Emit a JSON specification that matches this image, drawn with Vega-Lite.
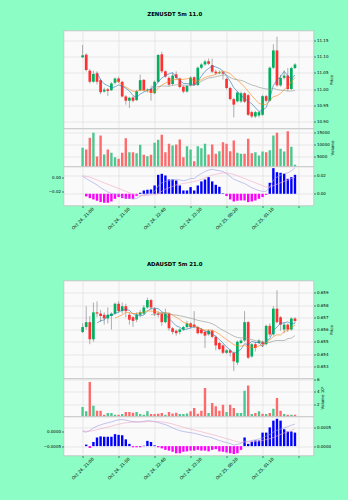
{
"$schema": "https://vega.github.io/schema/vega-lite/v6.json",
"background": "#8dfdc6",
"padding": {"left": 42.5, "top": 11.5, "right": 20, "bottom": 40},
"bounds": "flush",
"spacing": 0,
"config": {
  "font": "DejaVu Sans",
  "view": {"fill": "#fafafa", "stroke": "#c0c0c0", "strokeWidth": 0.8},
  "axis": {"labelFont": "DejaVu Sans", "labelFontSize": 4, "labelColor": "#000", "labelOverlap": false, "labelFlush": false, "titleFont": "DejaVu Sans", "titleFontSize": 4, "titleFontWeight": "normal", "titleColor": "#000", "tickColor": "#000", "tickSize": 2, "tickWidth": 0.5, "labelPadding": 1, "gridColor": "#dcdcdc", "gridWidth": 0.6, "domain": false},
  "title": {"font": "DejaVu Sans", "fontSize": 5.4, "fontWeight": "bold", "color": "#000", "anchor": "middle"}
},
"datasets": {
"zen": [
{"t":"2024-10-24T21:00","o":11.098,"h":11.136,"l":11.096,"c":11.104,"v":8570,"macd":0.001,"signal":0.002},
{"t":"2024-10-24T21:05","o":11.106,"h":11.110,"l":11.055,"c":11.059,"v":7860,"hist":-0.0029,"macd":-0.002,"signal":0.001},
{"t":"2024-10-24T21:10","o":11.057,"h":11.062,"l":11.018,"c":11.023,"v":12860,"hist":-0.0047,"macd":-0.005,"signal":0.0},
{"t":"2024-10-24T21:15","o":11.023,"h":11.057,"l":11.020,"c":11.047,"v":15000,"hist":-0.0062,"macd":-0.008,"signal":-0.002},
{"t":"2024-10-24T21:20","o":11.049,"h":11.055,"l":11.015,"c":11.023,"v":4860,"ma5":11.0512,"hist":-0.0076,"macd":-0.011,"signal":-0.004},
{"t":"2024-10-24T21:25","o":11.028,"h":11.032,"l":10.985,"c":10.991,"v":13860,"ma5":11.0286,"hist":-0.0091,"macd":-0.015,"signal":-0.006},
{"t":"2024-10-24T21:30","o":10.993,"h":11.005,"l":10.990,"c":10.999,"v":5710,"ma5":11.0166,"hist":-0.0098,"macd":-0.018,"signal":-0.008},
{"t":"2024-10-24T21:35","o":11.000,"h":11.004,"l":10.980,"c":10.995,"v":7860,"ma5":11.011,"hist":-0.0098,"macd":-0.021,"signal":-0.010},
{"t":"2024-10-24T21:40","o":10.997,"h":11.022,"l":10.995,"c":11.018,"v":6430,"ma5":11.0052,"hist":-0.0084,"macd":-0.023,"signal":-0.012},
{"t":"2024-10-24T21:45","o":11.020,"h":11.036,"l":11.015,"c":11.033,"v":4570,"ma5":11.0072,"ma10":11.0292,"hist":-0.0055,"macd":-0.024,"signal":-0.014},
{"t":"2024-10-24T21:50","o":11.033,"h":11.038,"l":11.020,"c":11.023,"v":3860,"ma5":11.0136,"ma10":11.0211,"hist":-0.0036,"macd":-0.025,"signal":-0.016},
{"t":"2024-10-24T21:55","o":11.023,"h":11.026,"l":10.975,"c":10.978,"v":6430,"ma5":11.0094,"ma10":11.013,"hist":-0.0047,"macd":-0.027,"signal":-0.018},
{"t":"2024-10-24T22:00","o":10.978,"h":10.982,"l":10.953,"c":10.965,"v":12710,"ma5":11.0034,"ma10":11.0072,"hist":-0.0055,"macd":-0.029,"signal":-0.020},
{"t":"2024-10-24T22:05","o":10.965,"h":10.977,"l":10.943,"c":10.974,"v":6710,"ma5":10.9946,"ma10":10.9999,"hist":-0.0055,"macd":-0.030,"signal":-0.022},
{"t":"2024-10-24T22:10","o":10.975,"h":10.979,"l":10.960,"c":10.965,"v":6710,"ma5":10.981,"ma10":10.9941,"hist":-0.0055,"macd":-0.031,"signal":-0.024},
{"t":"2024-10-24T22:15","o":10.967,"h":10.998,"l":10.964,"c":10.994,"v":6290,"ma5":10.9752,"ma10":10.9944,"hist":-0.0025,"macd":-0.030,"signal":-0.025},
{"t":"2024-10-24T22:20","o":10.997,"h":11.045,"l":10.994,"c":11.028,"v":9860,"ma5":10.9852,"ma10":10.9973,"hist":0.0011,"macd":-0.027,"signal":-0.026},
{"t":"2024-10-24T22:25","o":11.029,"h":11.031,"l":10.994,"c":10.997,"v":5570,"ma5":10.9916,"ma10":10.9975,"hist":0.0036,"macd":-0.025,"signal":-0.026},
{"t":"2024-10-24T22:30","o":10.997,"h":11.003,"l":10.990,"c":10.999,"v":5000,"ma5":10.9966,"ma10":10.9956,"hist":0.0044,"macd":-0.024,"signal":-0.026},
{"t":"2024-10-24T22:35","o":11.001,"h":11.008,"l":10.965,"c":10.989,"v":5570,"ma5":11.0014,"ma10":10.9912,"ma20":11.0102,"hist":0.0047,"macd":-0.023,"signal":-0.025},
{"t":"2024-10-24T22:40","o":10.988,"h":11.027,"l":10.985,"c":11.023,"v":10710,"ma5":11.0072,"ma10":10.9912,"ma20":11.0062,"hist":0.0091,"macd":-0.020,"signal":-0.025},
{"t":"2024-10-24T22:45","o":11.023,"h":11.108,"l":11.020,"c":11.105,"v":12000,"ma5":11.0226,"ma10":11.0039,"ma20":11.0085,"hist":0.0207,"macd":-0.012,"signal":-0.023},
{"t":"2024-10-24T22:50","o":11.107,"h":11.115,"l":11.050,"c":11.055,"v":14140,"ma5":11.0342,"ma10":11.0129,"ma20":11.0101,"hist":0.0218,"macd":-0.008,"signal":-0.020},
{"t":"2024-10-24T22:55","o":11.055,"h":11.058,"l":11.035,"c":11.039,"v":6710,"ma5":11.0422,"ma10":11.0194,"ma20":11.0097,"hist":0.0200,"macd":-0.006,"signal":-0.017},
{"t":"2024-10-24T23:00","o":11.035,"h":11.040,"l":11.010,"c":11.014,"v":10290,"ma5":11.0472,"ma10":11.0243,"ma20":11.0092,"hist":0.0156,"macd":-0.005,"signal":-0.015},
{"t":"2024-10-24T23:05","o":11.016,"h":11.051,"l":11.012,"c":11.042,"v":9570,"ma5":11.051,"ma10":11.0291,"ma20":11.0118,"hist":0.0156,"macd":-0.004,"signal":-0.013},
{"t":"2024-10-24T23:10","o":11.046,"h":11.055,"l":11.030,"c":11.035,"v":10000,"ma5":11.037,"ma10":11.0298,"ma20":11.0136,"hist":0.0145,"macd":-0.003,"signal":-0.011},
{"t":"2024-10-24T23:15","o":11.033,"h":11.036,"l":11.003,"c":11.007,"v":12140,"ma5":11.0274,"ma10":11.0308,"ma20":11.0142,"hist":0.0091,"macd":-0.004,"signal":-0.010},
{"t":"2024-10-24T23:20","o":11.008,"h":11.012,"l":10.988,"c":10.993,"v":4570,"ma5":11.0182,"ma10":11.0302,"ma20":11.0129,"hist":0.0036,"macd":-0.005,"signal":-0.009},
{"t":"2024-10-24T23:25","o":10.993,"h":11.014,"l":10.990,"c":11.010,"v":9290,"ma5":11.0174,"ma10":11.0323,"ma20":11.0118,"hist":0.0036,"macd":-0.004,"signal":-0.008},
{"t":"2024-10-24T23:30","o":11.012,"h":11.040,"l":11.008,"c":11.036,"v":7860,"ma5":11.0162,"ma10":11.0336,"ma20":11.0124,"hist":0.0073,"macd":-0.002,"signal":-0.007},
{"t":"2024-10-24T23:35","o":11.037,"h":11.040,"l":11.010,"c":11.013,"v":2860,"ma5":11.0118,"ma10":11.0244,"ma20":11.0142,"hist":0.0036,"macd":-0.002,"signal":-0.006},
{"t":"2024-10-24T23:40","o":11.013,"h":11.070,"l":11.010,"c":11.066,"v":9290,"ma5":11.0236,"ma10":11.0255,"ma20":11.0192,"hist":0.0091,"macd":0.002,"signal":-0.005},
{"t":"2024-10-24T23:45","o":11.066,"h":11.080,"l":11.062,"c":11.076,"v":8430,"ma5":11.0402,"ma10":11.0292,"ma20":11.0243,"hist":0.0135,"macd":0.005,"signal":-0.003},
{"t":"2024-10-24T23:50","o":11.076,"h":11.090,"l":11.072,"c":11.085,"v":10290,"ma5":11.0552,"ma10":11.0363,"ma20":11.0303,"hist":0.0156,"macd":0.008,"signal":-0.001},
{"t":"2024-10-24T23:55","o":11.086,"h":11.094,"l":11.074,"c":11.078,"v":5710,"ma5":11.0636,"ma10":11.0399,"ma20":11.0345,"hist":0.0182,"macd":0.010,"signal":0.001},
{"t":"2024-10-25T00:00","o":11.074,"h":11.094,"l":11.050,"c":11.054,"v":10000,"ma5":11.0718,"ma10":11.0418,"ma20":11.0358,"hist":0.0135,"macd":0.011,"signal":0.003},
{"t":"2024-10-25T00:05","o":11.054,"h":11.060,"l":11.044,"c":11.049,"v":6000,"ma5":11.0684,"ma10":11.046,"ma20":11.0384,"hist":0.0098,"macd":0.010,"signal":0.004},
{"t":"2024-10-25T00:10","o":11.049,"h":11.058,"l":11.046,"c":11.052,"v":7140,"ma5":11.0636,"ma10":11.0519,"ma20":11.041,"hist":0.0076,"macd":0.009,"signal":0.005},
{"t":"2024-10-25T00:15","o":11.052,"h":11.055,"l":11.030,"c":11.048,"v":11000,"ma5":11.0562,"ma10":11.0557,"ma20":11.044,"hist":0.0005,"macd":0.008,"signal":0.006},
{"t":"2024-10-25T00:20","o":11.032,"h":11.036,"l":11.000,"c":11.004,"v":10290,"ma5":11.0414,"ma10":11.0525,"ma20":11.043,"hist":-0.0025,"macd":0.005,"signal":0.006},
{"t":"2024-10-25T00:25","o":11.004,"h":11.008,"l":10.966,"c":10.970,"v":7140,"ma5":11.0246,"ma10":11.0482,"ma20":11.0363,"hist":-0.0062,"macd":0.001,"signal":0.005},
{"t":"2024-10-25T00:30","o":10.970,"h":10.974,"l":10.914,"c":10.953,"v":11710,"ma5":11.0054,"ma10":11.0369,"ma20":11.0312,"hist":-0.0084,"macd":-0.003,"signal":0.004},
{"t":"2024-10-25T00:35","o":10.963,"h":10.994,"l":10.960,"c":10.990,"v":6430,"ma5":10.993,"ma10":11.0283,"ma20":11.0288,"hist":-0.0076,"macd":-0.005,"signal":0.002},
{"t":"2024-10-25T00:40","o":10.963,"h":10.993,"l":10.958,"c":10.988,"v":6000,"ma5":10.981,"ma10":11.0186,"ma20":11.0275,"hist":-0.0073,"macd":-0.007,"signal":0.0},
{"t":"2024-10-25T00:45","o":10.988,"h":10.992,"l":10.958,"c":10.962,"v":6000,"ma5":10.9726,"ma10":11.007,"ma20":11.0235,"hist":-0.0073,"macd":-0.009,"signal":-0.002},
{"t":"2024-10-25T00:50","o":10.982,"h":10.986,"l":10.918,"c":10.922,"v":12430,"ma5":10.963,"ma10":10.9938,"ma20":11.0178,"hist":-0.0091,"macd":-0.012,"signal":-0.004},
{"t":"2024-10-25T00:55","o":10.930,"h":10.934,"l":10.912,"c":10.917,"v":6290,"ma5":10.9558,"ma10":10.9806,"ma20":11.0133,"hist":-0.0084,"macd":-0.015,"signal":-0.006},
{"t":"2024-10-25T01:00","o":10.917,"h":10.934,"l":10.912,"c":10.930,"v":6710,"ma5":10.9438,"ma10":10.9684,"ma20":11.0102,"hist":-0.0073,"macd":-0.017,"signal":-0.008},
{"t":"2024-10-25T01:05","o":10.920,"h":10.934,"l":10.914,"c":10.930,"v":5290,"ma5":10.9322,"ma10":10.9566,"ma20":11.0062,"hist":-0.0055,"macd":-0.019,"signal":-0.010},
{"t":"2024-10-25T01:10","o":10.922,"h":10.983,"l":10.918,"c":10.979,"v":7000,"ma5":10.9356,"ma10":10.9541,"ma20":11.0033,"hist":-0.0036,"macd":-0.020,"signal":-0.012},
{"t":"2024-10-25T01:15","o":10.979,"h":10.983,"l":10.960,"c":10.965,"v":6710,"ma5":10.9442,"ma10":10.9536,"ma20":11.0009,"hist":-0.0011,"macd":-0.020,"signal":-0.014},
{"t":"2024-10-25T01:20","o":10.965,"h":11.070,"l":10.962,"c":11.066,"v":7500,"ma5":10.974,"ma10":10.9649,"ma20":11.0009,"hist":0.012,"macd":-0.014,"signal":-0.014},
{"t":"2024-10-25T01:25","o":11.066,"h":11.138,"l":11.062,"c":11.119,"v":13860,"ma5":11.0118,"ma10":10.9778,"ma20":11.0031,"hist":0.028,"macd":-0.004,"signal":-0.012},
{"t":"2024-10-25T01:30","o":11.119,"h":11.161,"l":11.008,"c":11.012,"v":15000,"ma5":11.0282,"ma10":10.9802,"ma20":10.9994,"hist":0.0236,"macd":0.0,"signal":-0.010},
{"t":"2024-10-25T01:35","o":11.012,"h":11.044,"l":11.008,"c":11.035,"v":8140,"ma5":11.0394,"ma10":10.9875,"ma20":10.9973,"hist":0.0229,"macd":0.003,"signal":-0.008},
{"t":"2024-10-25T01:40","o":11.035,"h":11.058,"l":11.030,"c":11.042,"v":7000,"ma5":11.0548,"ma10":10.9995,"ma20":10.9967,"hist":0.0218,"macd":0.005,"signal":-0.006},
{"t":"2024-10-25T01:45","o":11.042,"h":11.065,"l":10.995,"c":11.001,"v":15700,"ma5":11.0418,"ma10":11.0079,"ma20":10.9943,"hist":0.0164,"macd":0.006,"signal":-0.004},
{"t":"2024-10-25T01:50","o":11.001,"h":11.069,"l":10.998,"c":11.065,"v":9000,"ma5":11.031,"ma10":11.0214,"ma20":10.9949,"hist":0.0182,"macd":0.009,"signal":-0.002},
{"t":"2024-10-25T01:55","o":11.065,"h":11.080,"l":11.062,"c":11.076,"v":1300,"ma5":11.0438,"ma10":11.036,"ma20":10.9963,"hist":0.0207,"macd":0.013,"signal":0.0}
],
"ada": [
{"t":"2024-10-24T21:00","o":0.6558,"h":0.6565,"l":0.6557,"c":0.6562,"v":1520000,"macd":0.0,"signal":0.00002},
{"t":"2024-10-24T21:05","o":0.6562,"h":0.6579,"l":0.6560,"c":0.6566,"v":830000,"hist":0.00004,"macd":-0.00002,"signal":0.00001},
{"t":"2024-10-24T21:10","o":0.6566,"h":0.6571,"l":0.6548,"c":0.6552,"v":5520000,"hist":-0.00005,"macd":0.00003,"signal":0.00001},
{"t":"2024-10-24T21:15","o":0.6552,"h":0.6582,"l":0.6550,"c":0.6574,"v":1730000,"hist":0.00011,"macd":0.00012,"signal":0.00003},
{"t":"2024-10-24T21:20","o":0.6574,"h":0.6583,"l":0.6570,"c":0.6573,"v":930000,"ma5":0.65654,"hist":0.00023,"macd":0.00018,"signal":0.00006},
{"t":"2024-10-24T21:25","o":0.6573,"h":0.6576,"l":0.6566,"c":0.6571,"v":930000,"ma5":0.65672,"hist":0.00026,"macd":0.00022,"signal":0.00009},
{"t":"2024-10-24T21:30","o":0.6572,"h":0.6574,"l":0.6564,"c":0.6569,"v":290000,"ma5":0.65678,"hist":0.00025,"macd":0.00026,"signal":0.00012},
{"t":"2024-10-24T21:35","o":0.6569,"h":0.6578,"l":0.6565,"c":0.6572,"v":560000,"ma5":0.65718,"hist":0.00025,"macd":0.00029,"signal":0.00015},
{"t":"2024-10-24T21:40","o":0.6571,"h":0.6574,"l":0.6560,"c":0.6573,"v":560000,"ma5":0.65716,"hist":0.00025,"macd":0.00032,"signal":0.00018},
{"t":"2024-10-24T21:45","o":0.6573,"h":0.6582,"l":0.6572,"c":0.6581,"v":290000,"ma5":0.65732,"ma10":0.65693,"hist":0.00032,"macd":0.00036,"signal":0.00021},
{"t":"2024-10-24T21:50","o":0.6581,"h":0.6583,"l":0.6574,"c":0.6575,"v":290000,"ma5":0.6574,"ma10":0.65706,"hist":0.0003,"macd":0.00039,"signal":0.00024},
{"t":"2024-10-24T21:55","o":0.6575,"h":0.6582,"l":0.6573,"c":0.6579,"v":400000,"ma5":0.6576,"ma10":0.65719,"hist":0.00029,"macd":0.0004,"signal":0.00027},
{"t":"2024-10-24T22:00","o":0.6579,"h":0.6581,"l":0.6570,"c":0.6575,"v":720000,"ma5":0.65766,"ma10":0.65742,"hist":0.00018,"macd":0.00038,"signal":0.00029},
{"t":"2024-10-24T22:05","o":0.6572,"h":0.6574,"l":0.6564,"c":0.6568,"v":720000,"ma5":0.65756,"ma10":0.65736,"hist":0.00006,"macd":0.00035,"signal":0.0003},
{"t":"2024-10-24T22:10","o":0.6570,"h":0.6571,"l":0.6562,"c":0.6567,"v":610000,"ma5":0.65728,"ma10":0.6573,"hist":-0.00003,"macd":0.00033,"signal":0.00031},
{"t":"2024-10-24T22:15","o":0.6568,"h":0.6574,"l":0.6566,"c":0.6572,"v":720000,"ma5":0.65722,"ma10":0.65731,"hist":-0.00003,"macd":0.00032,"signal":0.00031},
{"t":"2024-10-24T22:20","o":0.6572,"h":0.6576,"l":0.6570,"c":0.6574,"v":400000,"ma5":0.65712,"ma10":0.65736,"hist":-0.00003,"macd":0.00032,"signal":0.00032},
{"t":"2024-10-24T22:25","o":0.6573,"h":0.6580,"l":0.6572,"c":0.6578,"v":290000,"ma5":0.65718,"ma10":0.65742,"hist":0.00001,"macd":0.00034,"signal":0.00032},
{"t":"2024-10-24T22:30","o":0.6578,"h":0.6586,"l":0.6577,"c":0.6584,"v":830000,"ma5":0.6575,"ma10":0.65753,"hist":0.00014,"macd":0.00036,"signal":0.00033},
{"t":"2024-10-24T22:35","o":0.6584,"h":0.6585,"l":0.6576,"c":0.6578,"v":400000,"ma5":0.65772,"ma10":0.6575,"ma20":0.65722,"hist":0.00011,"macd":0.00035,"signal":0.00033},
{"t":"2024-10-24T22:40","o":0.6577,"h":0.6578,"l":0.6571,"c":0.6573,"v":400000,"ma5":0.65774,"ma10":0.65748,"ma20":0.6572,"hist":0.00002,"macd":0.00033,"signal":0.00033},
{"t":"2024-10-24T22:45","o":0.6573,"h":0.6575,"l":0.6570,"c":0.6572,"v":450000,"ma5":0.6577,"ma10":0.65741,"ma20":0.6573,"hist":-0.00003,"macd":0.0003,"signal":0.00033},
{"t":"2024-10-24T22:50","o":0.6573,"h":0.6574,"l":0.6563,"c":0.6566,"v":560000,"ma5":0.65746,"ma10":0.65732,"ma20":0.65737,"hist":-0.00006,"macd":0.00026,"signal":0.00032},
{"t":"2024-10-24T22:55","o":0.6566,"h":0.6577,"l":0.6565,"c":0.6573,"v":290000,"ma5":0.65724,"ma10":0.65737,"ma20":0.65737,"hist":-0.0001,"macd":0.00023,"signal":0.0003},
{"t":"2024-10-24T23:00","o":0.6573,"h":0.6574,"l":0.6559,"c":0.6561,"v":720000,"ma5":0.6569,"ma10":0.65731,"ma20":0.65731,"hist":-0.00012,"macd":0.00018,"signal":0.00028},
{"t":"2024-10-24T23:05","o":0.6561,"h":0.6562,"l":0.6556,"c":0.6558,"v":500000,"ma5":0.6566,"ma10":0.65717,"ma20":0.6572,"hist":-0.00015,"macd":0.00012,"signal":0.00025},
{"t":"2024-10-24T23:10","o":0.6559,"h":0.6560,"l":0.6555,"c":0.6557,"v":610000,"ma5":0.6563,"ma10":0.657,"ma20":0.65718,"hist":-0.00019,"macd":0.00007,"signal":0.00021},
{"t":"2024-10-24T23:15","o":0.6558,"h":0.6561,"l":0.6556,"c":0.6560,"v":400000,"ma5":0.65618,"ma10":0.65682,"ma20":0.65712,"hist":-0.00019,"macd":0.00003,"signal":0.00018},
{"t":"2024-10-24T23:20","o":0.6560,"h":0.6563,"l":0.6559,"c":0.6562,"v":400000,"ma5":0.65596,"ma10":0.6566,"ma20":0.65707,"hist":-0.00015,"macd":0.0,"signal":0.00014},
{"t":"2024-10-24T23:25","o":0.6562,"h":0.6567,"l":0.6561,"c":0.6565,"v":500000,"ma5":0.65604,"ma10":0.65647,"ma20":0.65699,"hist":-0.00014,"macd":-0.00002,"signal":0.00011},
{"t":"2024-10-24T23:30","o":0.6565,"h":0.6566,"l":0.6561,"c":0.6562,"v":830000,"ma5":0.65612,"ma10":0.65636,"ma20":0.65692,"hist":-0.00012,"macd":-0.00004,"signal":0.00008},
{"t":"2024-10-24T23:35","o":0.6564,"h":0.6575,"l":0.6561,"c":0.6562,"v":1360000,"ma5":0.65622,"ma10":0.65626,"ma20":0.65684,"hist":-0.00012,"macd":-0.00006,"signal":0.00005},
{"t":"2024-10-24T23:40","o":0.6562,"h":0.6563,"l":0.6556,"c":0.6557,"v":450000,"ma5":0.65616,"ma10":0.65617,"ma20":0.65675,"hist":-0.0001,"macd":-0.00009,"signal":0.00002},
{"t":"2024-10-24T23:45","o":0.6560,"h":0.6561,"l":0.6556,"c":0.6557,"v":930000,"ma5":0.65606,"ma10":0.65601,"ma20":0.65669,"hist":-0.00012,"macd":-0.00012,"signal":-0.00001},
{"t":"2024-10-24T23:50","o":0.6558,"h":0.6559,"l":0.6545,"c":0.6555,"v":4560000,"ma5":0.65586,"ma10":0.65595,"ma20":0.65663,"hist":-0.00012,"macd":-0.00016,"signal":-0.00004},
{"t":"2024-10-24T23:55","o":0.6556,"h":0.6560,"l":0.6555,"c":0.6559,"v":560000,"ma5":0.6558,"ma10":0.65596,"ma20":0.65657,"hist":-0.00014,"macd":-0.00018,"signal":-0.00007},
{"t":"2024-10-25T00:00","o":0.6559,"h":0.6560,"l":0.6553,"c":0.6554,"v":2160000,"ma5":0.65564,"ma10":0.65593,"ma20":0.65647,"hist":-0.0001,"macd":-0.00021,"signal":-0.0001},
{"t":"2024-10-25T00:05","o":0.6554,"h":0.6555,"l":0.6543,"c":0.6547,"v":1630000,"ma5":0.65544,"ma10":0.6558,"ma20":0.65631,"hist":-0.00008,"macd":-0.00026,"signal":-0.00013},
{"t":"2024-10-25T00:10","o":0.6549,"h":0.6550,"l":0.6543,"c":0.6544,"v":930000,"ma5":0.65518,"ma10":0.65562,"ma20":0.65611,"hist":-0.00014,"macd":-0.0003,"signal":-0.00017},
{"t":"2024-10-25T00:15","o":0.6547,"h":0.6548,"l":0.6540,"c":0.6541,"v":1890000,"ma5":0.6549,"ma10":0.65538,"ma20":0.65593,"hist":-0.00015,"macd":-0.00034,"signal":-0.0002},
{"t":"2024-10-25T00:20","o":0.6541,"h":0.6544,"l":0.6540,"c":0.6543,"v":720000,"ma5":0.65458,"ma10":0.65519,"ma20":0.65578,"hist":-0.00017,"macd":-0.00037,"signal":-0.00024},
{"t":"2024-10-25T00:25","o":0.6543,"h":0.6544,"l":0.6538,"c":0.6541,"v":1890000,"ma5":0.65432,"ma10":0.65498,"ma20":0.65562,"hist":-0.00019,"macd":-0.0004,"signal":-0.00027},
{"t":"2024-10-25T00:30","o":0.6541,"h":0.6542,"l":0.6526,"c":0.6534,"v":1360000,"ma5":0.65406,"ma10":0.65475,"ma20":0.65546,"hist":-0.00021,"macd":-0.00045,"signal":-0.00031},
{"t":"2024-10-25T00:35","o":0.6533,"h":0.6551,"l":0.6531,"c":0.6550,"v":560000,"ma5":0.65418,"ma10":0.65468,"ma20":0.65535,"hist":-0.00019,"macd":-0.00043,"signal":-0.00034},
{"t":"2024-10-25T00:40","o":0.6549,"h":0.6552,"l":0.6548,"c":0.6551,"v":560000,"ma5":0.65438,"ma10":0.65464,"ma20":0.6553,"hist":-0.0001,"macd":-0.0004,"signal":-0.00036},
{"t":"2024-10-25T00:45","o":0.6551,"h":0.6575,"l":0.6550,"c":0.6566,"v":4130000,"ma5":0.65484,"ma10":0.65471,"ma20":0.65534,"hist":0.00023,"macd":-0.00032,"signal":-0.00035},
{"t":"2024-10-25T00:50","o":0.6566,"h":0.6567,"l":0.6536,"c":0.6537,"v":4990000,"ma5":0.65476,"ma10":0.65454,"ma20":0.65524,"hist":0.00006,"macd":-0.00033,"signal":-0.00035},
{"t":"2024-10-25T00:55","o":0.6538,"h":0.6549,"l":0.6537,"c":0.6548,"v":400000,"ma5":0.65504,"ma10":0.65455,"ma20":0.65518,"hist":0.00012,"macd":-0.0003,"signal":-0.00034},
{"t":"2024-10-25T01:00","o":0.6548,"h":0.6550,"l":0.6542,"c":0.6545,"v":560000,"ma5":0.65494,"ma10":0.65456,"ma20":0.65509,"hist":0.00015,"macd":-0.00028,"signal":-0.00033},
{"t":"2024-10-25T01:05","o":0.6549,"h":0.6552,"l":0.6548,"c":0.6551,"v":830000,"ma5":0.65494,"ma10":0.65466,"ma20":0.65502,"hist":0.00015,"macd":-0.00025,"signal":-0.00032},
{"t":"2024-10-25T01:10","o":0.6550,"h":0.6551,"l":0.6546,"c":0.6548,"v":450000,"ma5":0.65458,"ma10":0.65471,"ma20":0.65495,"hist":0.00036,"macd":-0.00022,"signal":-0.0003},
{"t":"2024-10-25T01:15","o":0.6548,"h":0.6564,"l":0.6547,"c":0.6563,"v":400000,"ma5":0.6551,"ma10":0.65493,"ma20":0.65496,"hist":0.00036,"macd":-0.00015,"signal":-0.00027},
{"t":"2024-10-25T01:20","o":0.6563,"h":0.6565,"l":0.6554,"c":0.6556,"v":560000,"ma5":0.65526,"ma10":0.65515,"ma20":0.65495,"hist":0.0005,"macd":-0.0001,"signal":-0.00024},
{"t":"2024-10-25T01:25","o":0.6556,"h":0.6579,"l":0.6555,"c":0.6577,"v":1250000,"ma5":0.6559,"ma10":0.65542,"ma20":0.65505,"hist":0.00068,"macd":-0.00002,"signal":-0.0002},
{"t":"2024-10-25T01:30","o":0.6577,"h":0.6592,"l":0.6565,"c":0.6566,"v":2960000,"ma5":0.6562,"ma10":0.65557,"ma20":0.65511,"hist":0.00073,"macd":0.00004,"signal":-0.00015},
{"t":"2024-10-25T01:35","o":0.6570,"h":0.6571,"l":0.6559,"c":0.6564,"v":930000,"ma5":0.65652,"ma10":0.65555,"ma20":0.6551,"hist":0.00068,"macd":0.00008,"signal":-0.0001},
{"t":"2024-10-25T01:40","o":0.6560,"h":0.6566,"l":0.6557,"c":0.6564,"v":400000,"ma5":0.65654,"ma10":0.65582,"ma20":0.6551,"hist":0.00045,"macd":0.00012,"signal":-0.00005},
{"t":"2024-10-25T01:45","o":0.6564,"h":0.6565,"l":0.6558,"c":0.6560,"v":290000,"ma5":0.65662,"ma10":0.65594,"ma20":0.65525,"hist":0.00039,"macd":0.00016,"signal":-0.00001},
{"t":"2024-10-25T01:50","o":0.6560,"h":0.6570,"l":0.6559,"c":0.6569,"v":290000,"ma5":0.65646,"ma10":0.65618,"ma20":0.6553,"hist":0.00039,"macd":0.00021,"signal":0.00004},
{"t":"2024-10-25T01:55","o":0.6569,"h":0.6570,"l":0.6565,"c":0.6567,"v":290000,"ma5":0.65648,"ma10":0.65634,"ma20":0.6555,"hist":0.00036,"macd":0.00025,"signal":0.00009}
]
},
"vconcat": [
{
  "width": 250, "height": 98,
  "data": {"name": "zen"},
  "title": {"text": "ZENUSDT 5m 11.0", "offset": 13, "dx": -13.8},
  "encoding": {"x": {"field": "t", "type": "temporal", "scale": {"domain": [{"year":2024,"month":10,"date":24,"hours":20,"minutes":40,"seconds":24},{"year":2024,"month":10,"date":25,"hours":2,"minutes":13,"seconds":48}]}, "axis": {"values": [{"year":2024,"month":10,"date":24,"hours":21,"minutes":0},{"year":2024,"month":10,"date":24,"hours":21,"minutes":50},{"year":2024,"month":10,"date":24,"hours":22,"minutes":40},{"year":2024,"month":10,"date":24,"hours":23,"minutes":30},{"year":2024,"month":10,"date":25,"hours":0,"minutes":20},{"year":2024,"month":10,"date":25,"hours":1,"minutes":10},{"year":2024,"month":10,"date":25,"hours":2,"minutes":0}], "labels": false, "ticks": false, "domain": false, "title": null, "grid": true}}},
  "layer": [
    {"mark": {"type": "rule", "color": "#606060", "strokeWidth": 0.5}, "encoding": {"y": {"field": "l", "type": "quantitative", "scale": {"domain": [10.888, 11.171]}, "axis": {"orient": "right", "values": [10.9, 10.95, 11.0, 11.05, 11.1, 11.15], "format": ".2f", "labelOverlap": false, "title": "Price", "titleAngle": 270, "titleBaseline": "top", "titlePadding": 1.5, "grid": true}}, "y2": {"field": "h"}}},
    {"mark": {"type": "bar", "size": 2.7}, "encoding": {"y": {"field": "o", "type": "quantitative", "axis": {"orient": "right", "values": [10.9, 10.95, 11.0, 11.05, 11.1, 11.15], "format": ".2f", "labelOverlap": false, "title": "Price", "titleAngle": 270, "titleBaseline": "top", "titlePadding": 1.5, "grid": true}}, "y2": {"field": "c"}, "color": {"condition": {"test": "datum.c >= datum.o", "value": "#00b060"}, "value": "#fe3032"}}},
    {"mark": {"type": "line", "color": "#1f77b4", "strokeWidth": 0.6}, "encoding": {"y": {"field": "ma5", "type": "quantitative", "axis": {"orient": "right", "values": [10.9, 10.95, 11.0, 11.05, 11.1, 11.15], "format": ".2f", "labelOverlap": false, "title": "Price", "titleAngle": 270, "titleBaseline": "top", "titlePadding": 1.5, "grid": true}}}},
    {"mark": {"type": "line", "color": "#ff7f0e", "strokeWidth": 0.6}, "encoding": {"y": {"field": "ma10", "type": "quantitative", "axis": {"orient": "right", "values": [10.9, 10.95, 11.0, 11.05, 11.1, 11.15], "format": ".2f", "labelOverlap": false, "title": "Price", "titleAngle": 270, "titleBaseline": "top", "titlePadding": 1.5, "grid": true}}}},
    {"mark": {"type": "line", "color": "#8c968c", "strokeWidth": 0.6}, "encoding": {"y": {"field": "ma20", "type": "quantitative", "axis": {"orient": "right", "values": [10.9, 10.95, 11.0, 11.05, 11.1, 11.15], "format": ".2f", "labelOverlap": false, "title": "Price", "titleAngle": 270, "titleBaseline": "top", "titlePadding": 1.5, "grid": true}}}}
  ]
},
{
  "width": 250, "height": 38,
  "data": {"name": "zen"},
  "mark": {"type": "bar", "size": 2.4, "clip": true},
  "encoding": {
    "x": {"field": "t", "type": "temporal", "scale": {"domain": [{"year":2024,"month":10,"date":24,"hours":20,"minutes":40,"seconds":24},{"year":2024,"month":10,"date":25,"hours":2,"minutes":13,"seconds":48}]}, "axis": {"values": [{"year":2024,"month":10,"date":24,"hours":21,"minutes":0},{"year":2024,"month":10,"date":24,"hours":21,"minutes":50},{"year":2024,"month":10,"date":24,"hours":22,"minutes":40},{"year":2024,"month":10,"date":24,"hours":23,"minutes":30},{"year":2024,"month":10,"date":25,"hours":0,"minutes":20},{"year":2024,"month":10,"date":25,"hours":1,"minutes":10},{"year":2024,"month":10,"date":25,"hours":2,"minutes":0}], "labels": false, "ticks": false, "domain": false, "title": null, "grid": true}},
    "y": {"field": "v", "type": "quantitative", "scale": {"domain": [600, 16840], "zero": false}, "axis": {"orient": "right", "values": [5000, 10000, 15000], "format": "d", "labelOverlap": false, "title": "Volume", "titleAngle": 270, "titleBaseline": "top", "titlePadding": 1.5, "grid": true}},
    "color": {"condition": {"test": "datum.c >= datum.o", "value": "#4dc790"}, "value": "#fd6b6c"}
  }
},
{
  "width": 250, "height": 39,
  "data": {"name": "zen"},
  "encoding": {"x": {"field": "t", "type": "temporal", "scale": {"domain": [{"year":2024,"month":10,"date":24,"hours":20,"minutes":40,"seconds":24},{"year":2024,"month":10,"date":25,"hours":2,"minutes":13,"seconds":48}]}, "axis": {"values": [{"year":2024,"month":10,"date":24,"hours":21,"minutes":0},{"year":2024,"month":10,"date":24,"hours":21,"minutes":50},{"year":2024,"month":10,"date":24,"hours":22,"minutes":40},{"year":2024,"month":10,"date":24,"hours":23,"minutes":30},{"year":2024,"month":10,"date":25,"hours":0,"minutes":20},{"year":2024,"month":10,"date":25,"hours":1,"minutes":10},{"year":2024,"month":10,"date":25,"hours":2,"minutes":0}], "format": "%b %d, %H:%M", "labelExpr": "hours(datum.value) == 2 ? '' : datum.label", "labelAngle": -45, "labelAlign": "center", "labelBaseline": "middle", "labelPadding": 11, "labelFontSize": 4.3, "labelOverlap": false, "tickSize": 2, "domain": false, "title": null, "grid": true}}},
  "layer": [
    {"mark": {"type": "bar", "size": 2.4}, "encoding": {"y": {"field": "hist", "type": "quantitative", "scale": {"domain": [-0.0128, 0.0298]}, "axis": {"orient": "right", "values": [0, 0.02], "format": ".2f", "labelOverlap": false, "title": null, "grid": true}}, "color": {"condition": {"test": "datum.hist >= 0", "value": "#0000ff"}, "value": "#ff00ff"}}},
    {"layer": [
      {"mark": {"type": "line", "color": "#9a9ae6", "strokeWidth": 0.6}, "encoding": {"y": {"field": "macd", "type": "quantitative", "scale": {"domain": [-0.035, 0.01375]}, "axis": {"orient": "left", "values": [-0.02, 0], "format": ".2f", "labelOverlap": false, "title": null, "grid": false}}}},
      {"mark": {"type": "line", "color": "#f0a8c8", "strokeWidth": 0.6}, "encoding": {"y": {"field": "signal", "type": "quantitative", "axis": {"orient": "left", "values": [-0.02, 0], "format": ".2f", "labelOverlap": false, "title": null, "grid": false}}}}
    ]}
  ],
  "resolve": {"scale": {"y": "independent"}, "axis": {"y": "independent"}}
},
{
  "width": 250, "height": 75,
  "data": {"values": [{}]},
  "mark": {"type": "point", "opacity": 0},
  "view": {"fill": null, "stroke": null}
},
{
  "width": 250, "height": 98,
  "data": {"name": "ada"},
  "title": {"text": "ADAUSDT 5m 21.0", "offset": 13, "dx": -13.8},
  "encoding": {"x": {"field": "t", "type": "temporal", "scale": {"domain": [{"year":2024,"month":10,"date":24,"hours":20,"minutes":40,"seconds":24},{"year":2024,"month":10,"date":25,"hours":2,"minutes":13,"seconds":48}]}, "axis": {"values": [{"year":2024,"month":10,"date":24,"hours":21,"minutes":0},{"year":2024,"month":10,"date":24,"hours":21,"minutes":50},{"year":2024,"month":10,"date":24,"hours":22,"minutes":40},{"year":2024,"month":10,"date":24,"hours":23,"minutes":30},{"year":2024,"month":10,"date":25,"hours":0,"minutes":20},{"year":2024,"month":10,"date":25,"hours":1,"minutes":10},{"year":2024,"month":10,"date":25,"hours":2,"minutes":0}], "labels": false, "ticks": false, "domain": false, "title": null, "grid": true}}},
  "layer": [
    {"mark": {"type": "rule", "color": "#606060", "strokeWidth": 0.5}, "encoding": {"y": {"field": "l", "type": "quantitative", "scale": {"domain": [0.65224, 0.6595]}, "axis": {"orient": "right", "values": [0.653, 0.654, 0.655, 0.656, 0.657, 0.658, 0.659], "format": ".3f", "labelOverlap": false, "title": "Price", "titleAngle": 270, "titleBaseline": "top", "titlePadding": 1.5, "grid": true}}, "y2": {"field": "h"}}},
    {"mark": {"type": "bar", "size": 2.7}, "encoding": {"y": {"field": "o", "type": "quantitative", "axis": {"orient": "right", "values": [0.653, 0.654, 0.655, 0.656, 0.657, 0.658, 0.659], "format": ".3f", "labelOverlap": false, "title": "Price", "titleAngle": 270, "titleBaseline": "top", "titlePadding": 1.5, "grid": true}}, "y2": {"field": "c"}, "color": {"condition": {"test": "datum.c >= datum.o", "value": "#00b060"}, "value": "#fe3032"}}},
    {"mark": {"type": "line", "color": "#1f77b4", "strokeWidth": 0.6}, "encoding": {"y": {"field": "ma5", "type": "quantitative", "axis": {"orient": "right", "values": [0.653, 0.654, 0.655, 0.656, 0.657, 0.658, 0.659], "format": ".3f", "labelOverlap": false, "title": "Price", "titleAngle": 270, "titleBaseline": "top", "titlePadding": 1.5, "grid": true}}}},
    {"mark": {"type": "line", "color": "#ff7f0e", "strokeWidth": 0.6}, "encoding": {"y": {"field": "ma10", "type": "quantitative", "axis": {"orient": "right", "values": [0.653, 0.654, 0.655, 0.656, 0.657, 0.658, 0.659], "format": ".3f", "labelOverlap": false, "title": "Price", "titleAngle": 270, "titleBaseline": "top", "titlePadding": 1.5, "grid": true}}}},
    {"mark": {"type": "line", "color": "#8c968c", "strokeWidth": 0.6}, "encoding": {"y": {"field": "ma20", "type": "quantitative", "axis": {"orient": "right", "values": [0.653, 0.654, 0.655, 0.656, 0.657, 0.658, 0.659], "format": ".3f", "labelOverlap": false, "title": "Price", "titleAngle": 270, "titleBaseline": "top", "titlePadding": 1.5, "grid": true}}}}
  ]
},
{
  "width": 250, "height": 38,
  "data": {"name": "ada"},
  "mark": {"type": "bar", "size": 2.4, "clip": true},
  "encoding": {
    "x": {"field": "t", "type": "temporal", "scale": {"domain": [{"year":2024,"month":10,"date":24,"hours":20,"minutes":40,"seconds":24},{"year":2024,"month":10,"date":25,"hours":2,"minutes":13,"seconds":48}]}, "axis": {"values": [{"year":2024,"month":10,"date":24,"hours":21,"minutes":0},{"year":2024,"month":10,"date":24,"hours":21,"minutes":50},{"year":2024,"month":10,"date":24,"hours":22,"minutes":40},{"year":2024,"month":10,"date":24,"hours":23,"minutes":30},{"year":2024,"month":10,"date":25,"hours":0,"minutes":20},{"year":2024,"month":10,"date":25,"hours":1,"minutes":10},{"year":2024,"month":10,"date":25,"hours":2,"minutes":0}], "labels": false, "ticks": false, "domain": false, "title": null, "grid": true}},
    "y": {"field": "v", "type": "quantitative", "scale": {"domain": [0, 6100000]}, "axis": {"orient": "right", "values": [2000000, 4000000, 6000000], "labelExpr": "format(datum.value / 1000000, 'd')", "labelOverlap": false, "title": "Volume  10⁶", "titleAngle": 270, "titleBaseline": "top", "titlePadding": 1.5, "grid": true}},
    "color": {"condition": {"test": "datum.c >= datum.o", "value": "#4dc790"}, "value": "#fd6b6c"}
  }
},
{
  "width": 250, "height": 39,
  "data": {"name": "ada"},
  "encoding": {"x": {"field": "t", "type": "temporal", "scale": {"domain": [{"year":2024,"month":10,"date":24,"hours":20,"minutes":40,"seconds":24},{"year":2024,"month":10,"date":25,"hours":2,"minutes":13,"seconds":48}]}, "axis": {"values": [{"year":2024,"month":10,"date":24,"hours":21,"minutes":0},{"year":2024,"month":10,"date":24,"hours":21,"minutes":50},{"year":2024,"month":10,"date":24,"hours":22,"minutes":40},{"year":2024,"month":10,"date":24,"hours":23,"minutes":30},{"year":2024,"month":10,"date":25,"hours":0,"minutes":20},{"year":2024,"month":10,"date":25,"hours":1,"minutes":10},{"year":2024,"month":10,"date":25,"hours":2,"minutes":0}], "format": "%b %d, %H:%M", "labelExpr": "hours(datum.value) == 2 ? '' : datum.label", "labelAngle": -45, "labelAlign": "center", "labelBaseline": "middle", "labelPadding": 11, "labelFontSize": 4.3, "labelOverlap": false, "tickSize": 2, "domain": false, "title": null, "grid": true}}},
  "layer": [
    {"mark": {"type": "bar", "size": 2.4}, "encoding": {"y": {"field": "hist", "type": "quantitative", "scale": {"domain": [-0.00025, 0.00079]}, "axis": {"orient": "right", "values": [0, 0.0005], "format": ".4f", "labelOverlap": false, "title": null, "grid": true}}, "color": {"condition": {"test": "datum.hist >= 0", "value": "#0000ff"}, "value": "#ff00ff"}}},
    {"layer": [
      {"mark": {"type": "line", "color": "#9a9ae6", "strokeWidth": 0.6}, "encoding": {"y": {"field": "macd", "type": "quantitative", "scale": {"domain": [-0.00075, 0.00044]}, "axis": {"orient": "left", "values": [-0.0005, 0], "format": ".4f", "labelOverlap": false, "title": null, "grid": false}}}},
      {"mark": {"type": "line", "color": "#f0a8c8", "strokeWidth": 0.6}, "encoding": {"y": {"field": "signal", "type": "quantitative", "axis": {"orient": "left", "values": [-0.0005, 0], "format": ".4f", "labelOverlap": false, "title": null, "grid": false}}}}
    ]}
  ],
  "resolve": {"scale": {"y": "independent"}, "axis": {"y": "independent"}}
}
]
}
